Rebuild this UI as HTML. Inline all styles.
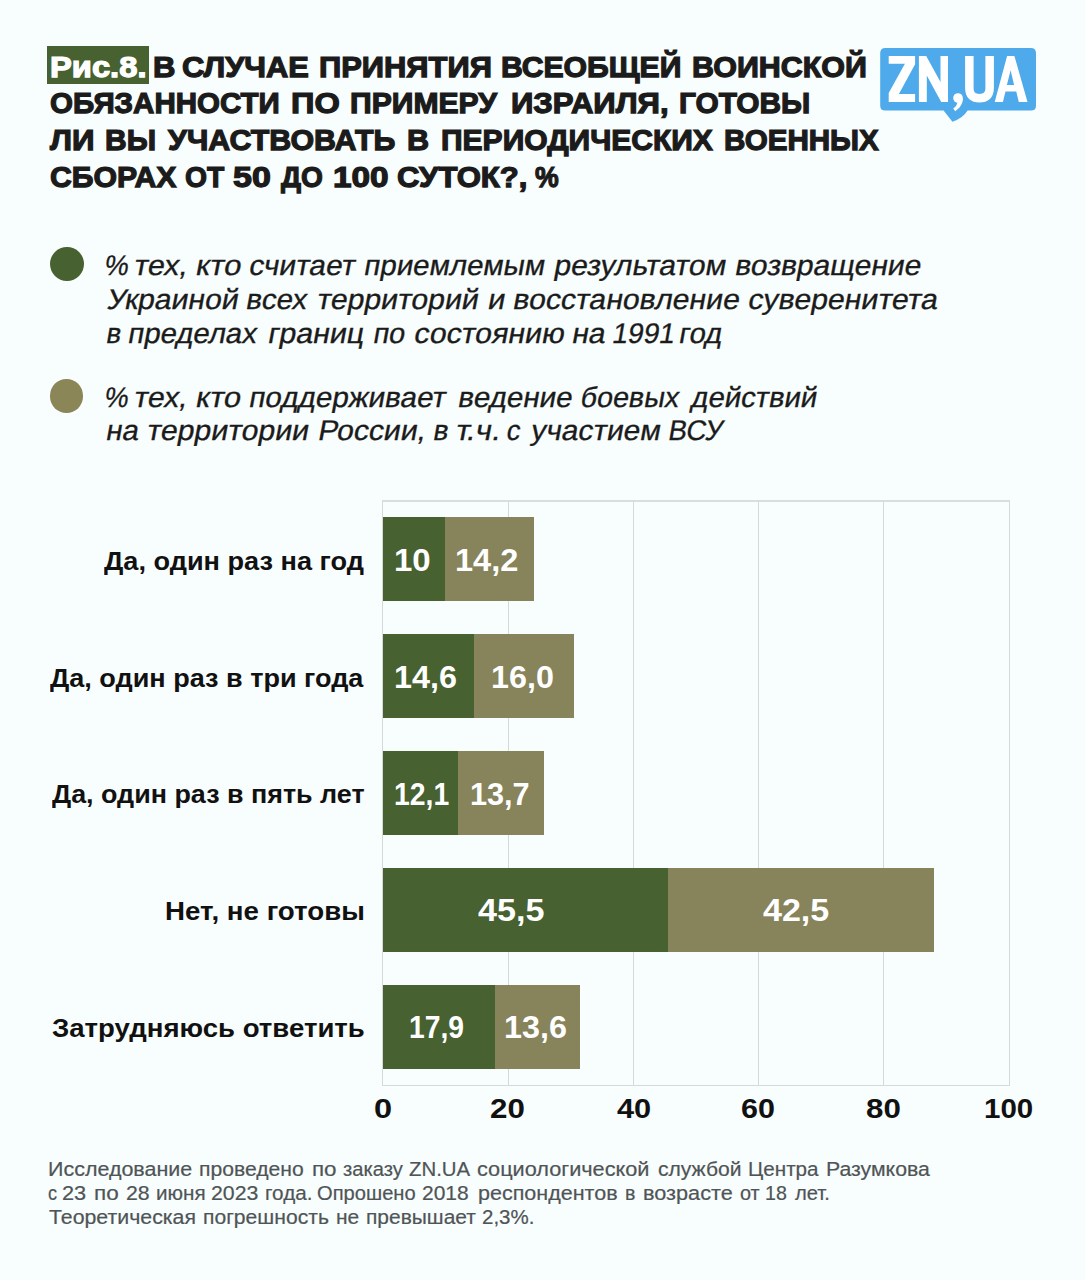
<!DOCTYPE html>
<html lang="ru">
<head>
<meta charset="utf-8">
<title>Рис.8</title>
<style>
html,body{margin:0;padding:0;}
body{width:1085px;height:1280px;background:#f8fdfd;position:relative;overflow:hidden;
  font-family:"Liberation Sans",sans-serif;color:#1a1a1a;}
.w{position:absolute;white-space:nowrap;transform-origin:0 0;}
.t{font-weight:bold;font-size:30px;line-height:36px;color:#1b1b1b;-webkit-text-stroke:1.25px #1b1b1b;}
.tw{font-weight:bold;font-size:30px;line-height:36px;color:#fff;-webkit-text-stroke:1.25px #fff;}
.lg{font-size:28.4px;line-height:34px;color:#1b1b1b;-webkit-text-stroke:0.3px #1b1b1b;}
.cat{font-weight:bold;font-size:26.5px;line-height:34px;color:#111;}
.val{font-weight:bold;font-size:31.4px;line-height:36px;color:#fff;}
.ax{font-weight:bold;font-size:27.3px;line-height:34px;color:#111;}
.ft{font-size:20.5px;line-height:25px;color:#4f5456;-webkit-text-stroke:0.2px #4f5456;}
#fig{position:absolute;left:47.4px;top:46px;width:101.2px;height:38.2px;background:#476130;}
.dot{position:absolute;width:33.8px;height:33.8px;border-radius:50%;}
.grid{position:absolute;top:500.6px;width:1px;height:585.2px;background:#d5dad9;}
.hl{position:absolute;left:381.8px;width:628px;height:1px;background:#d5dad9;}
.bar{position:absolute;height:83.6px;}
.g{background:#476130;}
.o{background:#87835b;}
</style>
</head>
<body>
<div id="fig"></div>
<svg style="position:absolute;left:870px;top:40px;" width="180" height="90" viewBox="870 40 180 90">
  <path fill="#4eaaea" d="M885.4 47.9 H1030.8 Q1036 47.9 1036 53.1 V105.4 Q1036 110.6 1030.8 110.6 H967.6 Q962.5 118.8 952.4 121.7 L943.6 110.6 H885.4 Q880.2 110.6 880.2 105.4 V53.1 Q880.2 47.9 885.4 47.9 Z"/>
  <g fill="#fff">
    <path d="M888.7 55.9 H915.1 V64.3 L898.9 94 H915.1 V101.9 H888.7 V93 L904.9 63.8 H888.7 Z"/>
    <path d="M918.9 101.9 V55.9 H926.2 L940.5 82 V55.9 H948 V101.9 H941.2 L926.8 75.6 V101.9 Z"/>
    <circle cx="958" cy="98" r="4.8"/>
    <path d="M963 98 C963 104 959.5 108.5 955.2 111.2 L953.2 108.6 C955.5 107 957 105 957.3 102.5 Z"/>
    <path d="M965.1 55.9 V88 C965.1 98 971 102.5 979.5 102.5 C988 102.5 993.9 98 993.9 88 V55.9 H985.4 V88 C985.4 92.2 983.5 93.9 979.5 93.9 C975.5 93.9 973.6 92.2 973.6 88 V55.9 Z"/>
    <path fill-rule="evenodd" d="M994.7 102 L1007.1 55.9 H1014.4 L1027.5 102 H1018.8 L1016.25 91.4 H1005.5 L1002.9 102 Z M1006.9 84.9 H1014.1 L1010.6 70.2 Z"/>
  </g>
</svg>
<div class="dot" style="left:49.9px;top:247.4px;background:#476130;"></div>
<div class="dot" style="left:49.7px;top:379.2px;background:#8a8658;"></div>
<div class="hl" style="top:500.4px;height:1.4px;background:#d9dedd;"></div>
<div class="hl" style="top:1084.8px;"></div>
<div class="grid" style="left:381.7px;"></div>
<div class="grid" style="left:507.5px;"></div>
<div class="grid" style="left:632.8px;"></div>
<div class="grid" style="left:758.0px;"></div>
<div class="grid" style="left:883.4px;"></div>
<div class="grid" style="left:1008.7px;"></div>
<div class="bar g" style="left:382.6px;top:517.4px;width:62.7px;"></div>
<div class="bar o" style="left:445.3px;top:517.4px;width:89.0px;"></div>
<div class="bar g" style="left:382.6px;top:634.3px;width:91.6px;"></div>
<div class="bar o" style="left:474.2px;top:634.3px;width:100.3px;"></div>
<div class="bar g" style="left:382.6px;top:751.2px;width:75.8px;"></div>
<div class="bar o" style="left:458.4px;top:751.2px;width:85.9px;"></div>
<div class="bar g" style="left:382.6px;top:868.1px;width:285.3px;"></div>
<div class="bar o" style="left:667.9px;top:868.1px;width:266.4px;"></div>
<div class="bar g" style="left:382.6px;top:985.0px;width:112.2px;"></div>
<div class="bar o" style="left:494.8px;top:985.0px;width:85.0px;"></div>

<div class="w tw" style="left:49.76px;top:49px;transform:scaleX(1.0901);">Рис.8.</div>
<div class="w t" style="left:153.45px;top:49px;transform:scaleX(1.0359);">В</div>
<div class="w t" style="left:182.49px;top:49px;transform:scaleX(1.0282);">СЛУЧАЕ</div>
<div class="w t" style="left:319.45px;top:49px;transform:scaleX(1.0303);">ПРИНЯТИЯ</div>
<div class="w t" style="left:501.09px;top:49px;transform:scaleX(1.0065);">ВСЕОБЩЕЙ</div>
<div class="w t" style="left:691.88px;top:49px;transform:scaleX(1.0142);">ВОИНСКОЙ</div>
<div class="w t" style="left:49.71px;top:85px;transform:scaleX(0.9834);">ОБЯЗАННОСТИ</div>
<div class="w t" style="left:290.67px;top:85px;transform:scaleX(1.0854);">ПО</div>
<div class="w t" style="left:350.49px;top:85px;transform:scaleX(1.0041);">ПРИМЕРУ</div>
<div class="w t" style="left:511.40px;top:85px;transform:scaleX(1.0372);">ИЗРАИЛЯ,</div>
<div class="w t" style="left:679.01px;top:85px;transform:scaleX(0.9946);">ГОТОВЫ</div>
<div class="w t" style="left:49.92px;top:122px;transform:scaleX(1.0443);">ЛИ</div>
<div class="w t" style="left:104.90px;top:122px;transform:scaleX(0.9990);">ВЫ</div>
<div class="w t" style="left:167.71px;top:122px;transform:scaleX(1.0129);">УЧАСТВОВАТЬ</div>
<div class="w t" style="left:407.27px;top:122px;transform:scaleX(1.0205);">В</div>
<div class="w t" style="left:440.50px;top:122px;transform:scaleX(1.0009);">ПЕРИОДИЧЕСКИХ</div>
<div class="w t" style="left:724.42px;top:122px;transform:scaleX(0.9862);">ВОЕННЫХ</div>
<div class="w t" style="left:50.10px;top:159px;transform:scaleX(1.0068);">СБОРАХ</div>
<div class="w t" style="left:185.23px;top:159px;transform:scaleX(0.9422);">ОТ</div>
<div class="w t" style="left:233.12px;top:159px;transform:scaleX(1.1323);">50</div>
<div class="w t" style="left:280.83px;top:159px;transform:scaleX(0.9379);">ДО</div>
<div class="w t" style="left:332.71px;top:159px;transform:scaleX(1.1109);">100</div>
<div class="w t" style="left:397.18px;top:159px;transform:scaleX(1.0371);">СУТОК?,</div>
<div class="w t" style="left:534.98px;top:159px;transform:scaleX(0.8876);">%</div>
<div class="w lg" style="left:108.01px;top:248px;transform:scaleX(0.9480) skewX(-10deg);">%</div>
<div class="w lg" style="left:138.20px;top:248px;transform:scaleX(1.0731) skewX(-10deg);">тех,</div>
<div class="w lg" style="left:199.62px;top:248px;transform:scaleX(1.0964) skewX(-10deg);">кто</div>
<div class="w lg" style="left:252.57px;top:248px;transform:scaleX(1.0505) skewX(-10deg);">считает</div>
<div class="w lg" style="left:368.06px;top:248px;transform:scaleX(1.0381) skewX(-10deg);">приемлемым</div>
<div class="w lg" style="left:557.60px;top:248px;transform:scaleX(1.0598) skewX(-10deg);">результатом</div>
<div class="w lg" style="left:739.18px;top:248px;transform:scaleX(1.0567) skewX(-10deg);">возвращение</div>
<div class="w lg" style="left:110.53px;top:282px;transform:scaleX(1.0587) skewX(-10deg);">Украиной</div>
<div class="w lg" style="left:250.45px;top:282px;transform:scaleX(1.0398) skewX(-10deg);">всех</div>
<div class="w lg" style="left:320.92px;top:282px;transform:scaleX(1.0625) skewX(-10deg);">территорий</div>
<div class="w lg" style="left:492.09px;top:282px;transform:scaleX(1.0834) skewX(-10deg);">и</div>
<div class="w lg" style="left:517.07px;top:282px;transform:scaleX(1.0634) skewX(-10deg);">восстановление</div>
<div class="w lg" style="left:751.68px;top:282px;transform:scaleX(1.0650) skewX(-10deg);">суверенитета</div>
<div class="w lg" style="left:109.58px;top:316px;transform:scaleX(0.9740) skewX(-10deg);">в</div>
<div class="w lg" style="left:132.49px;top:316px;transform:scaleX(1.0338) skewX(-10deg);">пределах</div>
<div class="w lg" style="left:271.81px;top:316px;transform:scaleX(1.0712) skewX(-10deg);">границ</div>
<div class="w lg" style="left:376.61px;top:316px;transform:scaleX(1.0218) skewX(-10deg);">по</div>
<div class="w lg" style="left:417.75px;top:316px;transform:scaleX(1.0654) skewX(-10deg);">состоянию</div>
<div class="w lg" style="left:575.85px;top:316px;transform:scaleX(1.0569) skewX(-10deg);">на</div>
<div class="w lg" style="left:616.18px;top:316px;transform:scaleX(0.9855) skewX(-10deg);">1991</div>
<div class="w lg" style="left:682.75px;top:316px;transform:scaleX(1.0349) skewX(-10deg);">год</div>
<div class="w lg" style="left:108.06px;top:380px;transform:scaleX(0.9425) skewX(-10deg);">%</div>
<div class="w lg" style="left:138.33px;top:380px;transform:scaleX(1.0668) skewX(-10deg);">тех,</div>
<div class="w lg" style="left:199.73px;top:380px;transform:scaleX(1.0900) skewX(-10deg);">кто</div>
<div class="w lg" style="left:253.28px;top:380px;transform:scaleX(1.0432) skewX(-10deg);">поддерживает</div>
<div class="w lg" style="left:461.86px;top:380px;transform:scaleX(1.0421) skewX(-10deg);">ведение</div>
<div class="w lg" style="left:583.80px;top:380px;transform:scaleX(1.0123) skewX(-10deg);">боевых</div>
<div class="w lg" style="left:695.34px;top:380px;transform:scaleX(1.0289) skewX(-10deg);">действий</div>
<div class="w lg" style="left:109.92px;top:413px;transform:scaleX(1.0351) skewX(-10deg);">на</div>
<div class="w lg" style="left:150.72px;top:413px;transform:scaleX(1.0650) skewX(-10deg);">территории</div>
<div class="w lg" style="left:322.01px;top:413px;transform:scaleX(1.0608) skewX(-10deg);">России,</div>
<div class="w lg" style="left:436.50px;top:413px;transform:scaleX(0.9943) skewX(-10deg);">в</div>
<div class="w lg" style="left:459.81px;top:413px;transform:scaleX(1.1030) skewX(-10deg);">т.ч.</div>
<div class="w lg" style="left:510.04px;top:413px;transform:scaleX(0.9601) skewX(-10deg);">с</div>
<div class="w lg" style="left:535.11px;top:413px;transform:scaleX(1.0508) skewX(-10deg);">участием</div>
<div class="w lg" style="left:671.74px;top:413px;transform:scaleX(0.9776) skewX(-10deg);">ВСУ</div>
<div class="w cat" style="left:103.94px;top:544px;transform:scaleX(1.0235);">Да, один раз на год</div>
<div class="w cat" style="left:49.74px;top:661px;transform:scaleX(1.0208);">Да, один раз в три года</div>
<div class="w cat" style="left:51.65px;top:777px;transform:scaleX(1.0147);">Да, один раз в пять лет</div>
<div class="w cat" style="left:165.07px;top:894px;transform:scaleX(1.0445);">Нет, не готовы</div>
<div class="w cat" style="left:51.72px;top:1011px;transform:scaleX(1.0407);">Затрудняюсь ответить</div>
<div class="w val" style="left:393.80px;top:543px;transform:scaleX(1.0508);">10</div>
<div class="w val" style="left:455.13px;top:543px;transform:scaleX(1.0355);">14,2</div>
<div class="w val" style="left:394.34px;top:660px;transform:scaleX(1.0293);">14,6</div>
<div class="w val" style="left:490.84px;top:660px;transform:scaleX(1.0286);">16,0</div>
<div class="w val" style="left:394.29px;top:777px;transform:scaleX(0.9030);">12,1</div>
<div class="w val" style="left:469.65px;top:777px;transform:scaleX(0.9766);">13,7</div>
<div class="w val" style="left:477.66px;top:893px;transform:scaleX(1.0879);">45,5</div>
<div class="w val" style="left:763.46px;top:893px;transform:scaleX(1.0845);">42,5</div>
<div class="w val" style="left:409.00px;top:1010px;transform:scaleX(0.9000);">17,9</div>
<div class="w val" style="left:504.44px;top:1010px;transform:scaleX(1.0293);">13,6</div>
<div class="w ax" style="left:374.21px;top:1092px;transform:scaleX(1.1923);">0</div>
<div class="w ax" style="left:490.35px;top:1092px;transform:scaleX(1.1469);">20</div>
<div class="w ax" style="left:616.64px;top:1092px;transform:scaleX(1.1270);">40</div>
<div class="w ax" style="left:741.38px;top:1092px;transform:scaleX(1.1186);">60</div>
<div class="w ax" style="left:866.25px;top:1092px;transform:scaleX(1.1469);">80</div>
<div class="w ax" style="left:984.31px;top:1092px;transform:scaleX(1.0807);">100</div>
<div class="w ft" style="left:47.88px;top:1156px;transform:scaleX(1.0472);">Исследование</div>
<div class="w ft" style="left:199.43px;top:1156px;transform:scaleX(1.0307);">проведено</div>
<div class="w ft" style="left:311.85px;top:1156px;transform:scaleX(1.0911);">по</div>
<div class="w ft" style="left:343.33px;top:1156px;transform:scaleX(0.9820);">заказу</div>
<div class="w ft" style="left:408.75px;top:1156px;transform:scaleX(0.9950);">ZN.UA</div>
<div class="w ft" style="left:477.40px;top:1156px;transform:scaleX(1.0585);">социологической</div>
<div class="w ft" style="left:657.90px;top:1156px;transform:scaleX(1.0280);">службой</div>
<div class="w ft" style="left:747.89px;top:1156px;transform:scaleX(1.0064);">Центра</div>
<div class="w ft" style="left:825.80px;top:1156px;transform:scaleX(1.0378);">Разумкова</div>
<div class="w ft" style="left:47.77px;top:1180px;transform:scaleX(0.8822);">с</div>
<div class="w ft" style="left:62.41px;top:1180px;transform:scaleX(1.0596);">23</div>
<div class="w ft" style="left:94.38px;top:1180px;transform:scaleX(1.0975);">по</div>
<div class="w ft" style="left:125.87px;top:1180px;transform:scaleX(1.0371);">28</div>
<div class="w ft" style="left:155.75px;top:1180px;transform:scaleX(1.0092);">июня</div>
<div class="w ft" style="left:211.22px;top:1180px;transform:scaleX(1.0394);">2023</div>
<div class="w ft" style="left:264.55px;top:1180px;transform:scaleX(1.0086);">года.</div>
<div class="w ft" style="left:317.22px;top:1180px;transform:scaleX(0.9827);">Опрошено</div>
<div class="w ft" style="left:422.20px;top:1180px;transform:scaleX(1.0231);">2018</div>
<div class="w ft" style="left:477.94px;top:1180px;transform:scaleX(1.0496);">респондентов</div>
<div class="w ft" style="left:625.42px;top:1180px;transform:scaleX(0.9558);">в</div>
<div class="w ft" style="left:642.91px;top:1180px;transform:scaleX(1.0579);">возрасте</div>
<div class="w ft" style="left:739.75px;top:1180px;transform:scaleX(0.9688);">от</div>
<div class="w ft" style="left:765.35px;top:1180px;transform:scaleX(0.9575);">18</div>
<div class="w ft" style="left:794.77px;top:1180px;transform:scaleX(0.9824);">лет.</div>
<div class="w ft" style="left:49.11px;top:1204px;transform:scaleX(1.0394);">Теоретическая</div>
<div class="w ft" style="left:202.81px;top:1204px;transform:scaleX(1.0296);">погрешность</div>
<div class="w ft" style="left:335.50px;top:1204px;transform:scaleX(1.0239);">не</div>
<div class="w ft" style="left:365.74px;top:1204px;transform:scaleX(1.0222);">превышает</div>
<div class="w ft" style="left:481.75px;top:1204px;transform:scaleX(0.9992);">2,3%.</div>
</body>
</html>
